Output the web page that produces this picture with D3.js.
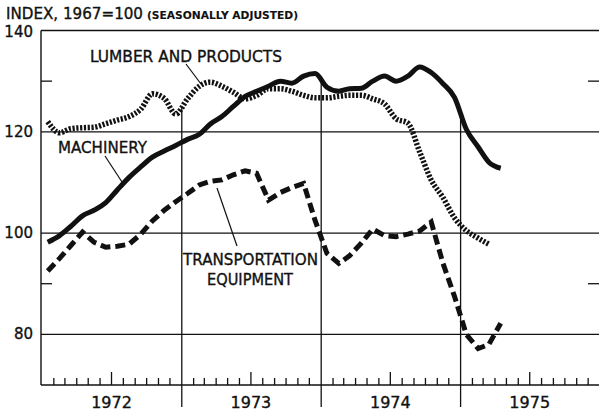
<!DOCTYPE html>
<html><head><meta charset="utf-8">
<script src="https://cdn.jsdelivr.net/npm/d3@7"></script>
<style>
html,body{margin:0;padding:0;background:#fff;}
svg{display:block;}
text{font-family:"DejaVu Sans",sans-serif;fill:#111;stroke:#111;stroke-width:0.35;}
</style></head>
<body>
<svg id="chart" width="599" height="412"></svg>
<script>
// ---- data (monthly, Jan 1972 .. Apr 1975) ----
const machinery = [98.2,99.5,101.3,103.4,104.5,106,108.5,111,113.1,115,116.2,117.3,
  118.5,119.5,121.5,123,125,127,128,129,130,129.6,131,131.5,
  128.8,128,128.5,128.6,130,131,130,131,132.8,131.7,129.5,126.8,
  120.5,117,114,112.8];
const lumber = [122,119.8,120.6,120.8,120.9,121.6,122.3,123,124.5,127.5,126.6,123.5,
  126.5,129,129.8,129,127.8,126.5,127.2,128.5,128.5,128,127.2,126.7,
  126.7,127,127.2,127.2,126.5,125.5,122.6,121.7,116,110.5,107,103,
  100.5,99,97.8];
const transport = [92.5,95,97.5,100.2,98.2,97.2,97.4,97.8,99.8,102.4,104.5,106.2,
  107.8,109.5,110.2,110.5,111.5,112.3,111.8,106.5,108,109,109.8,102.5,
  96,94,95.5,98,100.8,99.5,99.3,99.8,100.4,102.2,94,87.5,
  80,77.2,78,82.2];
const yTicks = [80,100,120,140];
const yMinorTicks = [90,130];
const yearLabels = ["1972","1973","1974","1975"];
const titleMain = "INDEX, 1967=100";
const titleSub = "(SEASONALLY ADJUSTED)";

// ---- layout ----
const svg = d3.select("#chart");
const pL = 41, pR = 599, pT = 30.5, pB = 385;
const x = d3.scaleTime().domain([new Date(1972,0,1), new Date(1976,0,1)]).range([42, 600]);
const y = d3.scaleLinear().domain([70,140]).range([pB, pT]);
const mid = i => new Date(1972, i, 16);
const fx = (d,i) => x(mid(i));

// grid lines
const g = svg.append("g");
g.selectAll("line.h").data(yTicks).join("line")
  .attr("x1", pL).attr("x2", pR)
  .attr("y1", d=>y(d)).attr("y2", d=>y(d))
  .attr("stroke","#111").attr("stroke-width", d=> d===140?1.6:1.3);
g.selectAll("line.ml").data(yMinorTicks).join("line")
  .attr("x1", pL).attr("x2", pL+11).attr("y1", d=>y(d)).attr("y2", d=>y(d))
  .attr("stroke","#111").attr("stroke-width",1.3);
g.selectAll("line.mr").data(yMinorTicks).join("line")
  .attr("x1", pR-11).attr("x2", pR).attr("y1", d=>y(d)).attr("y2", d=>y(d))
  .attr("stroke","#111").attr("stroke-width",1.3);
g.append("line").attr("x1",pL).attr("x2",pL).attr("y1",pT).attr("y2",pB)
  .attr("stroke","#111").attr("stroke-width",1.4);
g.append("line").attr("x1",pL).attr("x2",pR).attr("y1",pB).attr("y2",pB)
  .attr("stroke","#111").attr("stroke-width",1.5);
const monthTicks = d3.timeMonth.range(new Date(1972,1,1), new Date(1976,0,1)).filter(d=>d.getMonth()!==0);
g.selectAll("line.mt").data(monthTicks).join("line")
  .attr("x1", d=>x(d)).attr("x2", d=>x(d))
  .attr("y1", pB).attr("y2", d=> d.getMonth()===6 ? pB-13 : pB-7)
  .attr("stroke","#111").attr("stroke-width",1.3);

function valAt(arr, t){
  const i0 = Math.floor(t), i1 = i0+1;
  if (i0 < 0 || i1 >= arr.length) return -Infinity;
  return arr[i0] + (arr[i1]-arr[i0])*(t-i0);
}
const boundaries = [new Date(1973,0,1), new Date(1974,0,1), new Date(1975,0,1)];
boundaries.forEach((d,k)=>{
  const t = (k+1)*12 - 0.5;
  const vmax = Math.max(valAt(machinery,t), valAt(lumber,t), valAt(transport,t));
  g.append("line").attr("x1",x(d)).attr("x2",x(d))
    .attr("y1", y(vmax)).attr("y2", 407)
    .attr("stroke","#111").attr("stroke-width",1.3);
});

svg.selectAll("text.yl").data(yTicks).join("text")
  .attr("x", 33).attr("y", d=> d===140 ? y(d)+6 : y(d)+5)
  .attr("text-anchor","end").attr("font-size",15).text(d=>d);
svg.selectAll("text.yr").data(yearLabels).join("text")
  .attr("x",(d,i)=> x(new Date(1972+i,6,1)) ).attr("y",408)
  .attr("text-anchor","middle").attr("font-size",16).text(d=>d);

svg.append("text").attr("x",6).attr("y",19).attr("font-size",15)
  .attr("textLength",137).attr("lengthAdjust","spacingAndGlyphs").text(titleMain);
svg.append("text").attr("x",147).attr("y",19).attr("font-size",10).attr("font-weight","bold")
  .style("stroke-width",0.1)
  .attr("textLength",151).attr("lengthAdjust","spacingAndGlyphs").text(titleSub);

const lineSmooth = d3.line().x(fx).y(d=>y(d)).curve(d3.curveMonotoneX);
const lineStraight = d3.line().x(fx).y(d=>y(d));
svg.append("path").attr("d", lineSmooth(lumber)).attr("fill","none")
  .attr("stroke","#111").attr("stroke-width",5.5).attr("stroke-dasharray","2.2,1.6");
svg.append("path").attr("d", lineSmooth(machinery)).attr("fill","none")
  .attr("stroke","#111").attr("stroke-width",5).attr("stroke-linejoin","round");
svg.append("path").attr("d", lineStraight(transport)).attr("fill","none")
  .attr("stroke","#111").attr("stroke-width",5).attr("stroke-dasharray","10,5");

function label(txt, x0, yb, len){
  svg.append("text").attr("x",x0).attr("y",yb).attr("font-size",15)
    .attr("textLength",len).attr("lengthAdjust","spacingAndGlyphs").text(txt);
}
label("LUMBER AND PRODUCTS", 90, 62, 192);
label("MACHINERY", 58, 153, 89);
label("TRANSPORTATION", 183, 265, 135);
label("EQUIPMENT", 207, 285, 86);
const lead = [[186,64,201,84],[105,156,122,182],[217,188,237,246]];
svg.selectAll("line.ld").data(lead).join("line")
  .attr("x1",d=>d[0]).attr("y1",d=>d[1]).attr("x2",d=>d[2]).attr("y2",d=>d[3])
  .attr("stroke","#111").attr("stroke-width",1.2);
</script>
</body></html>
